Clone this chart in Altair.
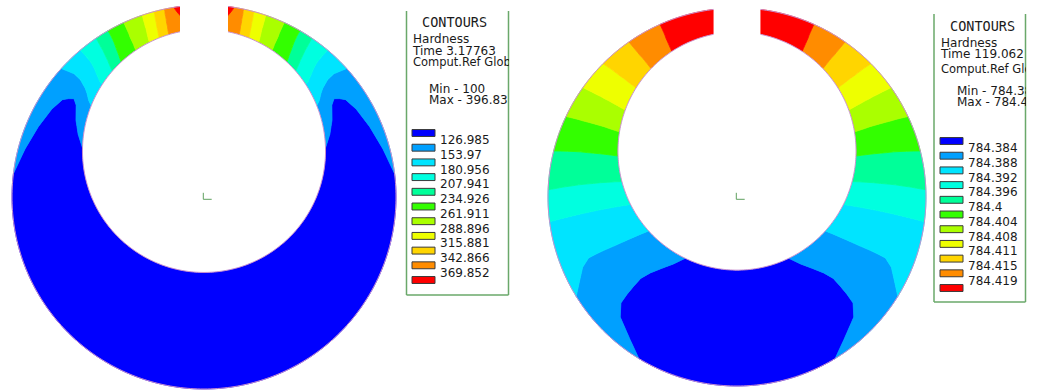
import math
import altair as alt
import pandas as pd

# ---- contour bands -------------------------------------------------------
BAND_COLORS = ["#0000ff", "#00a0ff", "#00e4ff", "#00ffe0", "#00ff99", "#33ff00",
               "#aaff00", "#eeff00", "#ffd500", "#ff8c00", "#ff0000"]
LEVELS_LEFT = ["126.985", "153.97", "180.956", "207.941", "234.926", "261.911",
               "288.896", "315.881", "342.866", "369.852"]
LEVELS_RIGHT = ["784.384", "784.388", "784.392", "784.396", "784.4", "784.404",
                "784.408", "784.411", "784.415", "784.419"]

HEADER_LEFT = ["Hardness", "Time 3.17763", "Comput.Ref Global", "Min - 100", "Max - 396.83"]
HEADER_RIGHT = ["Hardness", "Time 119.062", "Comput.Ref Global", "Min - 784.38", "Max - 784.42"]

# through-thickness stations: 0 = bore surface, 1 = outer surface
STATIONS = [0.0, 0.1, 0.2, 0.3, 0.4, 0.5, 0.6, 0.7, 0.8, 0.9, 1.0]

# angle (deg, measured from the slot) of each band boundary at every station;
# row k separates band k (further from the slot) from band k+1
BOUNDS_LEFT = [
    [68.0, 63.5, 59.0, 54.3, 52.9, 54.0, 55.5, 60.0, 67.0, 75.0, 83.0],
    [51.0, 50.0, 48.5, 47.5, 47.0, 46.5, 46.5, 46.5, 47.0, 47.5, 48.0],
    [42.0, 42.0, 41.5, 41.0, 40.5, 40.2, 40.0, 40.0, 40.0, 40.0, 40.0],
    [36.0, 35.8, 35.5, 35.2, 35.0, 34.8, 34.6, 34.5, 34.4, 34.3, 34.2],
    [31.5, 31.3, 31.0, 30.8, 30.6, 30.4, 30.2, 30.1, 30.0, 30.0, 30.0],
    [24.9, 24.9, 24.8, 24.8, 24.8, 24.8, 24.7, 24.7, 24.7, 24.7, 24.7],
    [19.4, 19.4, 19.3, 19.2, 19.1, 19.0, 19.0, 18.9, 18.9, 18.8, 18.8],
    [15.7, 15.7, 15.6, 15.5, 15.5, 15.4, 15.3, 15.3, 15.2, 15.1, 15.1],
    [12.2, 12.2, 12.2, 12.1, 12.1, 12.1, 12.0, 12.0, 12.0, 11.9, 11.9],
    [7.0, 7.0, 7.0, 7.0, 7.0, 7.0, 7.3, 7.8, 8.3, 8.7, 9.0],
]
BOUNDS_RIGHT = [
    [139.8, 136.5, 133.4, 131.2, 130.2, 130.8, 131.5, 132.4, 135.8, 143.0, 148.7],
    [111.0, 111.1, 111.3, 111.5, 111.7, 111.8, 112.0, 112.3, 114.5, 118.3, 121.7],
    [94.0, 94.35, 94.7, 95.05, 95.4, 95.75, 96.1, 96.45, 96.8, 97.15, 97.5],
    [82.4, 82.9, 83.5, 84.0, 84.6, 85.1, 85.6, 86.2, 86.7, 87.3, 87.8],
    [71.0, 71.5, 72.0, 72.5, 73.0, 73.5, 73.9, 74.4, 74.9, 75.4, 75.9],
    [61.0, 61.4, 61.8, 62.1, 62.5, 62.9, 63.3, 63.7, 64.0, 64.4, 64.8],
    [52.1, 52.4, 52.6, 52.9, 53.1, 53.4, 53.6, 53.9, 54.1, 54.4, 54.6],
    [42.8, 43.0, 43.3, 43.5, 43.7, 44.0, 44.2, 44.4, 44.6, 44.9, 45.1],
    [33.8, 33.9, 34.0, 34.1, 34.2, 34.4, 34.5, 34.6, 34.7, 34.8, 34.9],
    [24.1, 24.1, 24.1, 24.1, 24.1, 24.1, 24.0, 24.0, 24.0, 24.0, 24.0],
]

# ring geometry: outer radius (px), and in outer-radius units the bore offset
# (upwards), bore radius and slot half-width
GEOM_LEFT = dict(R=192, offset=0.240, bore=0.633, slot=0.125)
GEOM_RIGHT = dict(R=189, offset=0.243, bore=0.630, slot=0.124)

H = 390
CENTER = [204, 197]          # ring centre inside each ring panel
OUTLINE = "#c98fce"
BOX_GREEN = "#6aa86a"
FONT = "DejaVu Sans"
TEXT_SIZE = 12
HEADER_SIZES = [12, 12, 11.5, 12, 12]
PROJ = dict(type="identity", reflectY=True, scale=1, translate=CENTER)


def bore_radius(phi_deg, g):
    p = math.radians(phi_deg)
    d, r = g["offset"], g["bore"]
    return d * math.cos(p) + math.sqrt(r * r - (d * math.sin(p)) ** 2)


def polar(phi_deg, s, g):
    rin = bore_radius(phi_deg, g)
    rho = (rin + s * (1.0 - rin)) * g["R"]
    p = math.radians(phi_deg)
    return rho * math.sin(p), rho * math.cos(p)


def sweep(a, b, step=1.0):
    """Angles strictly between a and b, spaced about `step` degrees apart."""
    n = max(1, int(math.ceil(abs(b - a) / step)))
    return [a + (b - a) * j / n for j in range(1, n)]


def band_features(bounds, g):
    n = len(STATIONS)
    ext = [[180.0] * n] + bounds + [[0.0] * n]
    feats = []
    for k in range(len(ext) - 1):
        hi, lo = ext[k], ext[k + 1]
        pts = [polar(a, s, g) for a, s in zip(hi, STATIONS)]
        pts += [polar(a, 1.0, g) for a in sweep(hi[-1], lo[-1])]
        pts += [polar(a, s, g) for a, s in zip(reversed(lo), reversed(STATIONS))]
        pts += [polar(a, 0.0, g) for a in sweep(lo[0], hi[0])]
        pts.append(pts[0])
        for sign in (1, -1):
            ring = [[sign * x, y] for x, y in pts]
            feats.append({"type": "Feature", "properties": {"level": k},
                          "geometry": {"type": "Polygon", "coordinates": [ring]}})
    return feats


def circle_coords(cx, cy, r, n=360):
    return [[cx + r * math.sin(2 * math.pi * j / n), cy + r * math.cos(2 * math.pi * j / n)]
            for j in range(n + 1)]


def feature(geom_type, coords):
    return [{"type": "Feature", "properties": {}, "geometry": {"type": geom_type, "coordinates": coords}}]


def ring_panel(bounds, g, width):
    R = g["R"]
    cscale = alt.Scale(domain=list(range(11)), range=BAND_COLORS)

    bands = alt.Chart(alt.Data(values=band_features(bounds, g))).mark_geoshape(
        strokeWidth=0.8
    ).encode(
        color=alt.Color("properties.level:O", scale=cscale, legend=None),
        stroke=alt.Stroke("properties.level:O", scale=cscale, legend=None),
    ).project(**PROJ)

    rim = alt.Chart(alt.Data(values=feature("LineString", circle_coords(0, 0, R)))).mark_geoshape(
        filled=False, stroke=OUTLINE, strokeWidth=1
    ).project(**PROJ)

    bore = alt.Chart(alt.Data(values=feature(
        "Polygon", [circle_coords(0, g["offset"] * R, g["bore"] * R)]))).mark_geoshape(
        fill="white", stroke=OUTLINE, strokeWidth=1
    ).project(**PROJ)

    sl = g["slot"] * R
    y0, y1 = 0.5 * R, CENTER[1] + 10
    slot = alt.Chart(alt.Data(values=feature(
        "Polygon", [[[-sl, y0], [sl, y0], [sl, y1], [-sl, y1], [-sl, y0]]]))).mark_geoshape(
        fill="white", strokeWidth=0
    ).project(**PROJ)

    triad = alt.Chart(alt.Data(values=feature(
        "MultiLineString", [[[-0.7, 4.2], [-0.7, -2.3]], [[-0.7, -2.3], [7.7, -2.3]]]))).mark_geoshape(
        filled=False, stroke="#5fa05f", strokeWidth=1
    ).project(**PROJ)

    return alt.layer(bands, rim, bore, slot, triad).properties(width=width, height=H)


def legend_panel(width, labels, header, head_y, sw_first, sw_last, box_left, box_right, box_top, box_bottom):
    ys = alt.Scale(domain=[0, 10], range=[sw_first, sw_last], nice=False, zero=False)
    cscale = alt.Scale(domain=list(range(11)), range=BAND_COLORS)
    one = pd.DataFrame({"k": [0]})

    layers = []
    # frame
    layers.append(alt.Chart(one).mark_rule(color=BOX_GREEN, strokeWidth=1.5).encode(
        x=alt.value(box_left), y=alt.value(box_top), y2=alt.value(box_bottom)))
    layers.append(alt.Chart(one).mark_rule(color=BOX_GREEN, strokeWidth=1.5).encode(
        x=alt.value(box_right), y=alt.value(box_top), y2=alt.value(box_bottom)))
    layers.append(alt.Chart(one).mark_rule(color=BOX_GREEN, strokeWidth=1.5).encode(
        x=alt.value(box_left), x2=alt.value(box_right), y=alt.value(box_bottom)))

    layers.append(alt.Chart(pd.DataFrame({"t": ["CONTOURS"]})).mark_text(
        font="DejaVu Sans Mono", fontSize=13.5, align="left", baseline="alphabetic",
        color="#1a1a1a", clip=True).encode(text="t:N", x=alt.value(18), y=alt.value(head_y[0])))
    xs_head = [9, 9, 9, 25, 25]
    for txt, xh, yh, fs in zip(header, xs_head, head_y[1:], HEADER_SIZES):
        layers.append(alt.Chart(pd.DataFrame({"t": [txt]})).mark_text(
            font=FONT, fontSize=fs, align="left", baseline="alphabetic",
            color="#1a1a1a", clip=True).encode(text="t:N", x=alt.value(xh), y=alt.value(yh)))

    sw = pd.DataFrame({"level": list(range(11))})
    sw["ya"] = sw["level"] - 0.235
    sw["yb"] = sw["level"] + 0.235
    layers.append(alt.Chart(sw).mark_rect(stroke="#3a3a3a", strokeWidth=1).encode(
        x=alt.value(8), x2=alt.value(31),
        y=alt.Y("ya:Q", scale=ys, axis=None), y2="yb:Q",
        color=alt.Color("level:O", scale=cscale, legend=None)))

    lab = pd.DataFrame({"label": labels, "pos": [k + 0.5 for k in range(len(labels))]})
    layers.append(alt.Chart(lab).mark_text(
        font=FONT, fontSize=TEXT_SIZE, align="left", baseline="middle", color="#1a1a1a", clip=True
    ).encode(text="label:N", x=alt.value(36), y=alt.Y("pos:Q", scale=ys, axis=None)))

    return alt.layer(*layers).properties(width=width, height=H)


left_ring = ring_panel(BOUNDS_LEFT, GEOM_LEFT, 404)
left_leg = legend_panel(105, LEVELS_LEFT, HEADER_LEFT, [26.7, 43.3, 54.5, 65.8, 92.8, 103.5],
                        133, 280, 2.5, 104.5, 11, 295)
gap = alt.Chart(pd.DataFrame({"k": [0]})).mark_point(opacity=0, size=0).properties(width=24, height=H)
right_ring = ring_panel(BOUNDS_RIGHT, GEOM_RIGHT, 399)
right_leg = legend_panel(94, LEVELS_RIGHT, HEADER_RIGHT, [30.7, 47.3, 58.3, 73.0, 95.3, 105.5],
                         141, 288, 2, 93.5, 14, 302)

chart = alt.hconcat(left_ring, left_leg, gap, right_ring, right_leg, spacing=0, bounds="flush").properties(
    padding=0, background="white"
).configure_view(stroke=None)

chart.save("out.html", embed_options={"renderer": "svg", "actions": False})
